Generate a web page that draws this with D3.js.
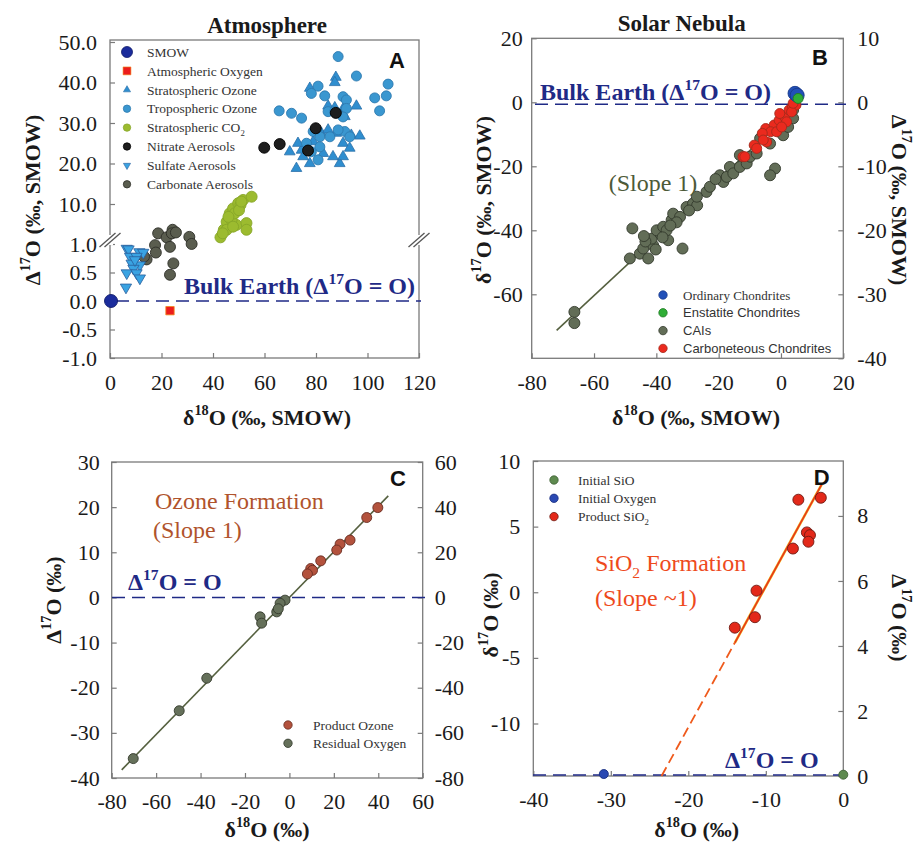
<!DOCTYPE html>
<html>
<head>
<meta charset="utf-8">
<script src="https://cdn.jsdelivr.net/npm/d3@7/dist/d3.min.js"></script>
<style>
body { margin: 0; background: #fff; }
</style>
</head>
<body>
<svg id="viz"></svg>
<script>
var width = 917;
var height = 843;
var serif = "'Liberation Serif', 'Times New Roman', serif";
var sans = "'Liberation Sans', Arial, sans-serif";
var navy = "#1f2a86";
var frameColor = "#7a7a7a";

// ---- Panel A : Atmosphere  [d18O, D17O]
var smowA = [[0.4, 0]];
var atmOxygenA = [[23.3, -0.17]];
var stratOzoneA = [[77.6, 38.6], [87.7, 41.3], [87.3, 40], [84.7, 34.2], [87.3, 33.8], [95.7, 34.2],
    [91.2, 31.6], [69.8, 22.9], [72.4, 18.8], [75, 21.7], [77.6, 20], [78.9, 25.4], [82.1, 27.5],
    [82.8, 22.5], [86.6, 21.7], [89.2, 20], [90.5, 21.7], [87.9, 27.5], [93.7, 27], [97, 26.8],
    [90.5, 25], [93.1, 23.8], [74.4, 23.3], [73, 25], [84.7, 28.3], [90.5, 33.5]];
var tropOzoneA = [[88.6, 46.4], [95.7, 41.6], [80.8, 39.1], [108, 39.6], [78.2, 37.3], [83.4, 36.7],
    [90.5, 36.5], [91.8, 35.7], [102.8, 36.2], [107.3, 36.7], [65.7, 33], [70.5, 32.4], [74.4, 31.2],
    [91.8, 33.6], [104.7, 33], [84.7, 32.8], [87.3, 32.8], [78.9, 27.9], [81.5, 26.6], [91.2, 27.9],
    [93.1, 26.6], [76.3, 25], [81.5, 24.1], [78.2, 22.9], [85.4, 26.6], [88.6, 28.3], [80.8, 20.9],
    [90.5, 31.5]];
var stratCO2A = [[42.9, 2.5], [44.2, 4.2], [45.3, 6.0], [46.5, 7.9], [47.8, 9.0], [49.8, 10.2],
    [51.7, 11.0], [55, 11.8], [49.1, 5.3], [53, 5.7], [53, 4.2], [45.3, 4.2], [47.2, 6.4], [48.4, 7.9],
    [50.7, 9.8], [46, 7.1], [43.8, 3.4], [50.1, 8.6], [51, 10.6], [47.8, 4.9]];
var nitrateA = [[59.9, 23.9], [65.9, 24.8], [76.9, 23.2], [79.9, 28.7], [87.7, 32.5]];
var sulfateA = [[6.5, 0.92], [7.2, 0.91], [11.4, 0.86], [12.9, 0.85], [7.8, 0.78], [10.3, 0.78],
    [8.4, 0.66], [11.6, 0.63], [9.1, 0.57], [6.5, 0.49], [10.3, 0.49], [11.6, 0.40], [6.2, 0.24],
    [9.7, 0.72]];
var carbonateA = [[18.7, 3.4], [22, 2.5], [24.3, 4.2], [24, 3.4], [25.6, 3.6], [30.8, 2.6],
    [31.7, 1.01], [17.5, 0.98], [23.3, 0.95], [17.8, 0.85], [14.2, 0.73], [24.6, 0.66], [23.3, 0.46],
    [13.2, 0.78]];
var xTicksA = [0, 20, 40, 60, 80, 100, 120];
var yTicksA = [-1, -0.5, 0, 0.5, 1, 10, 20, 30, 40, 50];
var yLabelsA = ["-1.0", "-0.5", "0.0", "0.5", "1.0", "10.0", "20.0", "30.0", "40.0", "50.0"];
var legendA = ["SMOW", "Atmospheric Oxygen", "Stratospheric Ozone", "Tropospheric Ozone",
    "Stratospheric CO|2", "Nitrate Aerosols", "Sulfate Aerosols", "Carbonate Aerosols"];

// ---- Panel B : Solar Nebula  [d18O, d17O]
var ordinaryB = [[4.5, 2.8], [5.2, 2.2]];
var enstatiteB = [[5.5, 1.2]];
var caiB = [[-66.3, -65.5], [-66.3, -69.0], [-47.7, -39.4], [-48.5, -48.8], [-45.3, -47.3],
    [-44.2, -45.7], [-42.6, -48.8], [-41, -44.7], [-41.5, -42.6], [-38.8, -41.0], [-39.9, -40.0],
    [-37.8, -38.9], [-36.2, -43.1], [-36.7, -40.0], [-35.1, -36.8], [-34.6, -34.8], [-32.4, -35.8],
    [-31.6, -45.7], [-30.3, -32.7], [-28.2, -31.6], [-26.9, -32.2], [-23.9, -28.0], [-22.8, -26.4],
    [-19.6, -22.8], [-18.5, -24.9], [-17.4, -23.3], [-16.4, -20.2], [-15.3, -22.2], [-13.2, -20.2],
    [-13.2, -16.5], [-11, -19.1], [-9.9, -17.0], [-7.8, -16.0], [-6.7, -11.3], [-3.5, -12.9],
    [-1.9, -20.7], [-3.5, -22.8], [-0.4, -9.2], [0.7, -10.3], [1.7, -5.6], [2.3, -7.7], [3.9, -5.0],
    [3.9, -2.4], [-43.5, -43.5], [-40.2, -46.0], [-38.0, -42.2], [-33.5, -37.5], [-29.5, -33.8],
    [-21.0, -24.0], [-27.0, -29.5], [-44.0, -41.8], [-35.5, -38.5]];
var carbonaceousB = [[-12.2, -17.0], [-8.6, -13.4], [-4.9, -8.2], [-2.2, -7.1], [-0.6, -5.6],
    [1.1, -4.5], [2.6, -2.4], [3.7, -1.4], [4.8, -0.9], [-3.3, -9.2], [-6, -9.7], [-0.4, -3.5],
    [3.4, -3.0], [1.8, -6.1], [-1.4, -9.2], [-4.6, -12.4], [-7.8, -14.4], [-11.6, -17.0],
    [3.9, -0.3], [0.2, -7.7], [-5.7, -11.8]];
var slopeLineB = [[-72, -71.3], [5.5, -1]];
var xTicksB = [-80, -60, -40, -20, 0, 20];
var yTicksB = [20, 0, -20, -40, -60];
var y2TicksB = [10, 0, -10, -20, -30, -40];
var legendB = ["Ordinary Chondrites", "Enstatite Chondrites", "CAIs", "Carboneteous Chondrites"];

// ---- Panel C : Ozone formation  [d18O, D17O]
var productOzoneC = [[39.8, 19.9], [34.8, 17.7], [27.3, 12.7], [22.8, 11.8], [21.3, 10.5],
    [14.1, 8.1], [9.6, 6.4], [10.4, 6.0], [8.1, 5.2]];
var residualOxygenC = [[-1.97, -0.6], [-4.2, -1.3], [-5.7, -3.2], [-5, -2.5], [-13.2, -4.3],
    [-12.5, -5.7], [-37.2, -17.9], [-49.6, -25.1], [-70.3, -35.7]];
var slopeLineC = [[-75.5, -38.2], [44.5, 22.5]];
var xTicksC = [-80, -60, -40, -20, 0, 20, 40, 60];
var yTicksC = [30, 20, 10, 0, -10, -20, -30, -40];
var y2TicksC = [60, 40, 20, 0, -20, -40, -60, -80];
var legendC = ["Product Ozone", "Residual Oxygen"];

// ---- Panel D : SiO2 formation  [d18O, d17O]
var initialSiOD = [[0, -13.9]];
var initialOxygenD = [[-30.9, -13.85]];
var productSiO2D = [[-5.8, 7.05], [-2.9, 7.2], [-4.7, 4.56], [-4.3, 4.35], [-4.5, 3.85],
    [-6.5, 3.33], [-11.2, 0.12], [-11.4, -1.9], [-14, -2.7]];
var slopeDashedD = [[-23.45, -14], [-14.0, -3.85]];
var slopeSolidD = [[-14.0, -3.85], [-2.8, 8.2]];
var xTicksD = [-40, -30, -20, -10, 0];
var yTicksD = [10, 5, 0, -5, -10];
var y2TicksD = [8, 6, 4, 2, 0];
var legendD = ["Initial SiO", "Initial Oxygen", "Product SiO|2"];

// ---------------------------------------------------------------
var svg = d3.select("#viz").attr("width", width).attr("height", height)
    .attr("font-family", serif);

// text with super/subscripts, parts = [[text, "sup"|"sub"|null], ...]
function rich(sel, parts, fs) {
    var shift = 0;
    parts.forEach(function(p) {
        var t = sel.append("tspan").text(p[0]);
        var target = p[1] == "sup" ? -fs * 0.42 : (p[1] == "sub" ? fs * 0.28 : 0);
        if (p[1]) t.attr("font-size", fs * 0.65);
        if (target != shift) { t.attr("dy", target - shift); shift = target; }
    });
    return sel;
}

function label(x, y, parts, opt) {
    opt = opt || {};
    var fs = opt.size || 22;
    var t = svg.append("text")
        .attr("transform", "translate(" + x + "," + y + ")" + (opt.rotate ? " rotate(" + opt.rotate + ")" : ""))
        .attr("y", opt.center ? fs * 0.35 : 0)
        .attr("text-anchor", opt.anchor || "middle")
        .attr("font-family", opt.family || serif)
        .attr("font-size", fs)
        .attr("font-weight", opt.bold ? "bold" : "normal")
        .attr("fill", opt.color || "#1a1a1a");
    return rich(t, parts, fs);
}

function splitSub(s) {
    var bits = s.split("|");
    return bits.length > 1 ? [[bits[0], null], [bits[1], "sub"]] : [[s, null]];
}

function frame(x0, x1, y0, y1) {
    svg.append("rect").attr("x", x0).attr("y", y0)
        .attr("width", x1 - x0).attr("height", y1 - y0)
        .attr("fill", "none").attr("stroke", frameColor).attr("stroke-width", 1.3);
}

function axis(gen, tx, ty) {
    var g = svg.append("g").attr("transform", "translate(" + tx + "," + ty + ")").call(gen);
    g.select(".domain").remove();
    g.attr("font-family", serif).attr("font-size", 22);
    g.selectAll("line").attr("stroke", frameColor).attr("stroke-width", 1.2);
    g.selectAll("text").attr("fill", "#1a1a1a");
    return g;
}

function dots(data, x, y, r, fill, stroke) {
    svg.append("g").selectAll("circle").data(data).enter().append("circle")
        .attr("cx", function(d) { return x(d[0]); })
        .attr("cy", function(d) { return y(d[1]); })
        .attr("r", r).attr("fill", fill)
        .attr("stroke", stroke).attr("stroke-width", 0.9);
}

function syms(data, x, y, type, size, fill, stroke, flip) {
    var path = d3.symbol().type(type).size(size)();
    svg.append("g").selectAll("path").data(data).enter().append("path")
        .attr("d", path)
        .attr("transform", function(d) {
            return "translate(" + x(d[0]) + "," + y(d[1]) + ")" + (flip ? " rotate(180)" : "");
        })
        .attr("fill", fill).attr("stroke", stroke).attr("stroke-width", 0.8);
}

function line(data, x, y, color, w, dash) {
    svg.append("path").datum(data)
        .attr("d", d3.line().x(function(d) { return x(d[0]); }).y(function(d) { return y(d[1]); }))
        .attr("fill", "none").attr("stroke", color).attr("stroke-width", w)
        .attr("stroke-dasharray", dash || null);
}

function hdash(x0, x1, yy) {
    svg.append("line").attr("x1", x0).attr("x2", x1).attr("y1", yy).attr("y2", yy)
        .attr("stroke", navy).attr("stroke-width", 1.6).attr("stroke-dasharray", "13,7");
}

function legend(items, mx, tx, y0, step, family, size, markers) {
    items.forEach(function(name, i) {
        var yy = y0 + i * step;
        markers[i](mx, yy);
        var fam = Array.isArray(family) ? family[i] : family;
        label(tx, yy, splitSub(name), { anchor: "start", center: true, size: size, family: fam, color: "#333" });
    });
}

function legDot(r, fill, stroke) {
    return function(x, y) {
        svg.append("circle").attr("cx", x).attr("cy", y).attr("r", r)
            .attr("fill", fill).attr("stroke", stroke).attr("stroke-width", 0.8);
    };
}

function legSym(type, size, fill, stroke, flip) {
    return function(x, y) {
        svg.append("path").attr("d", d3.symbol().type(type).size(size)())
            .attr("transform", "translate(" + x + "," + y + ")" + (flip ? " rotate(180)" : ""))
            .attr("fill", fill).attr("stroke", stroke).attr("stroke-width", 0.6);
    };
}

function breakMark(cx, cy) {
    svg.append("rect").attr("x", cx - 3).attr("y", cy - 5).attr("width", 6).attr("height", 10).attr("fill", "#fff");
    [-2.5, 2.5].forEach(function(o) {
        svg.append("line").attr("x1", cx + o - 8).attr("y1", cy + 7)
            .attr("x2", cx + o + 8).attr("y2", cy - 7)
            .attr("stroke", "#555").attr("stroke-width", 1.3);
    });
}

var fmt = function(d) { return String(d); };

// ================= Panel A =================
var xA = d3.scaleLinear().domain([0, 120]).range([110, 419]);
var yA = d3.scaleLinear().domain([-1, 1, 10, 50]).range([358, 244, 204, 42]);
frame(110, 419, 40, 358);
axis(d3.axisBottom(xA).tickValues(xTicksA).tickSize(-5).tickPadding(16).tickFormat(fmt), 0, 358);
axis(d3.axisLeft(yA).tickValues(yTicksA).tickSize(-5).tickPadding(13)
    .tickFormat(function(d, i) { return yLabelsA[i]; }), 110, 0);
breakMark(110, 240);
breakMark(419, 240);

hdash(116, 421, yA(0));
syms(stratOzoneA, xA, yA, d3.symbolTriangle, 50, "#2f8ecf", "#2a6ea8");
dots(tropOzoneA, xA, yA, 5, "#3a97d0", "#2f7bb0");
dots(nitrateA, xA, yA, 5.5, "#1e1e1e", "#000");
dots(stratCO2A, xA, yA, 5.5, "#9cbb2f", "#87a628");
dots(carbonateA, xA, yA, 5.5, "#5a5d4f", "#2e2f28");
syms(sulfateA, xA, yA, d3.symbolTriangle, 55, "#3aa3e2", "#2a5e9c", true);
dots(smowA, xA, yA, 6.5, "#1b2c9c", "#0f1a6a");
syms(atmOxygenA, xA, yA, d3.symbolSquare, 70, "#ec1c1c", "#f28a1c");

legend(legendA, 127, 147, 52, 18.9, serif, 13.5, [
    legDot(5.5, "#1b2c9c", "#0f1a6a"),
    legSym(d3.symbolSquare, 62, "#ec1c1c", "#f28a1c"),
    legSym(d3.symbolTriangle, 22, "#2f8ecf", "#2a6ea8"),
    legDot(3.7, "#3a97d0", "#2f7bb0"),
    legDot(3.7, "#9cbb2f", "#87a628"),
    legDot(3.7, "#1e1e1e", "#000"),
    legSym(d3.symbolTriangle, 22, "#3aa3e2", "#2a5e9c", true),
    legDot(3.7, "#5a5d4f", "#2e2f28")
]);

label(267, 33, [["Atmosphere", null]], { bold: true, size: 23 });
label(397, 68, [["A", null]], { bold: true, size: 22, family: sans, color: "#111" });
label(184, 294, [["Bulk Earth (Δ", null], ["17", "sup"], ["O = O)", null]],
    { bold: true, size: 24, anchor: "start", color: navy });
label(32, 200, [["Δ", null], ["17", "sup"], ["O (‰, SMOW)", null]], { bold: true, size: 22, rotate: -90, center: true });
label(267, 417, [["δ", null], ["18", "sup"], ["O (‰, SMOW)", null]], { bold: true, size: 22, center: true });

// ================= Panel B =================
var xB = d3.scaleLinear().domain([-80, 20]).range([531.7, 843.3]);
var yB = d3.scaleLinear().domain([-80, 20]).range([358.3, 38.3]);
var yB2 = d3.scaleLinear().domain([-40, 10]).range([358.3, 38.3]);
frame(531.7, 843.3, 38.3, 358.3);
axis(d3.axisBottom(xB).tickValues(xTicksB).tickSize(-5).tickPadding(16).tickFormat(fmt), 0, 358.3);
axis(d3.axisLeft(yB).tickValues(yTicksB).tickSize(-5).tickPadding(9).tickFormat(fmt), 531.7, 0);
axis(d3.axisRight(yB2).tickValues(y2TicksB).tickSize(-5).tickPadding(14).tickFormat(fmt), 843.3, 0);

hdash(535, 846, yB2(0) + 2);
line(slopeLineB, xB, yB, "#55603f", 1.6);
dots(caiB, xB, yB, 5.5, "#626d57", "#333a2c");
dots(carbonaceousB, xB, yB, 5, "#ea2a1e", "#a52a1c");
dots(ordinaryB, xB, yB, 7, "#2150b8", "#1a3a8a");
dots(enstatiteB, xB, yB, 5, "#2fae36", "#1f7a25");

legend(legendB, 663, 683, 295, 17.8, [serif, sans, sans, sans], 13, [
    legDot(4.2, "#2150b8", "#1a3a8a"),
    legDot(4.2, "#2fae36", "#1f7a25"),
    legDot(4.2, "#626d57", "#333a2c"),
    legDot(4.2, "#ea2a1e", "#a52a1c")
]);

label(681.7, 31, [["Solar Nebula", null]], { bold: true, size: 23 });
label(820, 65, [["B", null]], { bold: true, size: 22, family: sans, color: "#111" });
label(540, 100, [["Bulk Earth (Δ", null], ["17", "sup"], ["O = O)", null]],
    { bold: true, size: 24, anchor: "start", color: navy });
label(653, 191, [["(Slope 1)", null]], { size: 24, color: "#4d5a38" });
label(483, 200, [["δ", null], ["17", "sup"], ["O (‰, SMOW)", null]], { bold: true, size: 22, rotate: -90, center: true });
label(900, 200, [["Δ", null], ["17", "sup"], ["O (‰, SMOW)", null]], { bold: true, size: 22, rotate: 90, center: true });
label(696, 417, [["δ", null], ["18", "sup"], ["O (‰, SMOW)", null]], { bold: true, size: 22, center: true });

// ================= Panel C =================
var xC = d3.scaleLinear().domain([-80, 60]).range([111.7, 422.7]);
var yC = d3.scaleLinear().domain([-40, 30]).range([778, 462]);
var yC2 = d3.scaleLinear().domain([-80, 60]).range([778, 462]);
frame(111.7, 422.7, 462, 778);
axis(d3.axisBottom(xC).tickValues(xTicksC).tickSize(-5).tickPadding(15).tickFormat(fmt), 0, 778);
axis(d3.axisLeft(yC).tickValues(yTicksC).tickSize(-5).tickPadding(12).tickFormat(fmt), 111.7, 0);
axis(d3.axisRight(yC2).tickValues(y2TicksC).tickSize(-5).tickPadding(12).tickFormat(fmt), 422.7, 0);

hdash(112, 427, yC(0));
line(slopeLineC, xC, yC, "#55603f", 1.6);
dots(productOzoneC, xC, yC, 5, "#b3523d", "#6a2e22");
dots(residualOxygenC, xC, yC, 5, "#65705a", "#343a2d");

legend(legendC, 288, 313, 725, 18.3, serif, 13.5, [
    legDot(4.2, "#b3523d", "#6a2e22"),
    legDot(4.2, "#65705a", "#343a2d")
]);

label(398, 486, [["C", null]], { bold: true, size: 22, family: sans, color: "#111" });
label(155, 509, [["Ozone Formation", null]], { size: 24, anchor: "start", color: "#b0532c" });
label(153, 538, [["(Slope 1)", null]], { size: 24, anchor: "start", color: "#b0532c" });
label(128, 590, [["Δ", null], ["17", "sup"], ["O = O", null]], { bold: true, size: 24, anchor: "start", color: navy });
label(53, 600, [["Δ", null], ["17", "sup"], ["O (‰)", null]], { bold: true, size: 22, rotate: -90, center: true });
label(267, 829, [["δ", null], ["18", "sup"], ["O (‰)", null]], { bold: true, size: 22, center: true });

// ================= Panel D =================
var xD = d3.scaleLinear().domain([-40, 0]).range([533.3, 843.3]);
var yD = d3.scaleLinear().domain([-14, 10]).range([776, 461]);
var yD2 = d3.scaleLinear().domain([0, 9.69]).range([776, 461]);
frame(533.3, 843.3, 461, 776);
axis(d3.axisBottom(xD).tickValues(xTicksD).tickSize(-5).tickPadding(15).tickFormat(fmt), 0, 776);
axis(d3.axisLeft(yD).tickValues(yTicksD).tickSize(-5).tickPadding(13).tickFormat(fmt), 533.3, 0);
axis(d3.axisRight(yD2).tickValues(y2TicksD).tickSize(-5).tickPadding(14).tickFormat(fmt), 843.3, 0);

hdash(533, 843, yD2(0) - 1);
line(slopeDashedD, xD, yD, "#ef5a1c", 1.8, "10,5");
line(slopeSolidD, xD, yD, "#f0c21e", 2.6);
line(slopeSolidD, xD, yD, "#e8361c", 1.6);
dots(productSiO2D, xD, yD, 5.5, "#e3291a", "#6e1a12");
dots(initialOxygenD, xD, yD, 4.5, "#2a49b2", "#1a2f80");
dots(initialSiOD, xD, yD, 4.5, "#5e8a4f", "#3e6034");

legend(legendD, 554, 578, 480, 18.3, serif, 13.5, [
    legDot(4.2, "#5e8a4f", "#3e6034"),
    legDot(4.2, "#2a49b2", "#1a2f80"),
    legDot(4.2, "#e3291a", "#6e1a12")
]);

label(821.7, 485, [["D", null]], { bold: true, size: 22, family: sans, color: "#111" });
label(595, 571, [["SiO", null], ["2", "sub"], [" Formation", null]], { size: 24, anchor: "start", color: "#ee4a1c" });
label(595, 606, [["(Slope ~1)", null]], { size: 24, anchor: "start", color: "#ee4a1c" });
label(725, 768, [["Δ", null], ["17", "sup"], ["O = O", null]], { bold: true, size: 24, anchor: "start", color: navy });
label(490, 615, [["δ", null], ["17", "sup"], ["O (‰)", null]], { bold: true, size: 22, rotate: -90, center: true });
label(900, 618, [["Δ", null], ["17", "sup"], ["O (‰)", null]], { bold: true, size: 22, rotate: 90, center: true });
label(696.7, 829, [["δ", null], ["18", "sup"], ["O (‰)", null]], { bold: true, size: 22, center: true });
</script>
</body>
</html>
